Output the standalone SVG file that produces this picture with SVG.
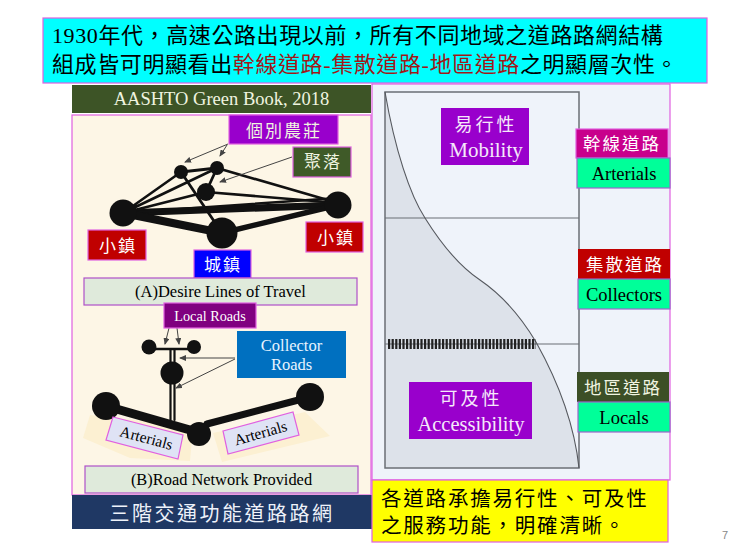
<svg xmlns="http://www.w3.org/2000/svg" width="740" height="555" viewBox="0 0 740 555">
<style>
text{font-family:"Liberation Serif","Noto Sans CJK TC",serif;text-anchor:middle}
.b{stroke:#e060e0;stroke-width:1.2}
.w{fill:#fff}
.g{fill:#f0f4e0}
.cjk{font-size:17px;letter-spacing:2px}
.lab{fill:#dfeadb;stroke:#b050c8;stroke-width:1.2}
.mint{fill:#00ff99;stroke:#9966cc;stroke-width:1.2}
.thin{stroke:#444;stroke-width:1;fill:none;marker-end:url(#a)}
.sand{fill:#fcf0d2}
</style>
<defs>
<marker id="a" markerWidth="7" markerHeight="6" refX="6" refY="3" orient="auto" markerUnits="userSpaceOnUse"><path d="M0 0L7 3L0 6z" fill="#444"/></marker>
</defs>
<rect width="740" height="555" fill="#fff"/>
<g id="title">
<rect x="43" y="18" width="664" height="65" fill="#00ffff" class="b"/>
<text x="52" y="43" font-size="22" letter-spacing=".6" style="text-anchor:start">1930年代&#xFF0C;高速公路出現以前&#xFF0C;所有不同地域之道路路網結構</text>
<text x="52" y="72" font-size="22" letter-spacing=".6" style="text-anchor:start">組成皆可明顯看出<tspan fill="#a01818">幹線道路-集散道路-地區道路</tspan>之明顯層次性。</text>
</g>
<g id="left-panel">
<rect x="72" y="85" width="299" height="28" fill="#3d5426"/>
<text x="221.500" y="105" font-size="18.500" fill="#f0f4e0">AASHTO Green Book, 2018</text>
<rect x="72" y="115" width="299" height="380" fill="#fdf6e6" class="b"/>
<path class="sand" d="M83 438L90 415L193 427L190 461L130 458Z"/>
<path class="sand" d="M213 433L305 412L330 436L222 462Z"/>
</g>
<g id="right-panel">
<rect x="372" y="84" width="298" height="396" fill="#eff3fa" class="b"/>
</g>
<g id="chart">
<path d="M385 92C395 150 410 195 425 218C445 250 462 268 480 280C505 297 524 322 536 342C560 385 575 430 579 468H385Z" fill="#dde2ea"/>
<rect x="385" y="92" width="194" height="376" fill="none" stroke="#6b6f75" stroke-width="1.5"/>
<path d="M385 218H579M385 344H579" stroke="#6b6f75" stroke-width="1.2"/>
<path d="M385 92C395 150 410 195 425 218C445 250 462 268 480 280C505 297 524 322 536 342C560 385 575 430 579 468" fill="none" stroke="#55585e" stroke-width="1.1"/>
<path d="M388 344H536" stroke="#222" stroke-width="10" stroke-dasharray="2.2 1.4"/>
</g>
<g id="connectors">
<g stroke="#111" fill="none" stroke-linecap="round">
<path d="M123 213L181 172M123 213L217 168M123 213L206 192" stroke-width="2.600"/>
<path d="M123 213L338 205" stroke-width="7"/>
<path d="M123 213L338 198" stroke-width="2.500"/>
<path d="M123 213L222 233" stroke-width="8"/>
<path d="M222 233L338 205" stroke-width="5.500"/>
<path d="M181 172L217 168" stroke-width="3"/>
<path d="M217 168L338 203M206 192L338 203" stroke-width="2.600"/>
<path d="M217 168L206 192M181 172L222 233" stroke-width="2.800"/>
<path d="M149 349H194" stroke-width="2.600"/>
<path d="M170.500 349V420M174.500 349V420" stroke-width="2.200"/>
<path d="M106 406L190 430" stroke-width="9"/>
<path d="M207 424L310 397" stroke-width="7"/>
</g>
<path class="thin" d="M228 144L185 162"/>
<path class="thin" d="M227 145L220 156"/>
<path class="thin" d="M292 157L220 182"/>
<path class="thin" d="M169 328L165 344"/>
<path class="thin" d="M177 328L179 344"/>
<path class="thin" d="M235 358L180 358"/>
<path class="thin" d="M235 359L176 388"/>
</g>
<g id="junctions" fill="#111">
<circle cx="123" cy="213" r="13.500"/><circle cx="338" cy="205" r="13.500"/><circle cx="222" cy="233" r="15.500"/>
<circle cx="181" cy="172" r="7"/><circle cx="217" cy="168" r="7"/><circle cx="206" cy="192" r="9"/>
<circle cx="149" cy="347" r="7.500"/><circle cx="194" cy="347" r="7"/><circle cx="172" cy="373" r="11.500"/>
<circle cx="106" cy="406" r="14"/><circle cx="310" cy="397" r="14"/><circle cx="199" cy="434" r="12"/>
</g>
<g id="farm"><rect x="229" y="115" width="109" height="29" fill="#9900cc" class="b"/><text class="cjk g" x="284" y="137" style="font-size:17px">個別農莊</text></g>
<g id="hamlet"><rect x="293" y="147" width="58" height="30" fill="#3f5a28" class="b"/><text class="cjk g" x="323" y="168">聚落</text></g>
<g id="town-left"><rect x="88" y="230" width="58" height="30" fill="#c00000" class="b"/><text class="cjk w" x="118" y="252">小鎮</text></g>
<g id="town-right"><rect x="306" y="222" width="57" height="30" fill="#c00000" class="b"/><text class="cjk w" x="336" y="244">小鎮</text></g>
<g id="city"><rect x="194" y="250" width="57" height="28" fill="#0000ff" class="b"/><text class="cjk w" x="223" y="271">城鎮</text></g>
<g id="label-a"><rect x="84" y="278" width="273" height="27" class="lab"/><text x="220.500" y="297" font-size="16.500">(A)Desire Lines of Travel</text></g>
<g id="local-roads"><rect x="164" y="303" width="92" height="25" fill="#800080" class="b"/><text class="w" x="210" y="321" font-size="14.200">Local Roads</text></g>
<g id="collector-roads"><rect x="237" y="331" width="109" height="47" fill="#0070c0"/><text fill="#e8f4ff" x="291.500" y="351" font-size="16.500">Collector</text><text fill="#e8f4ff" x="291.500" y="370" font-size="16.500">Roads</text></g>
<g id="arterial-left"><path d="M113 417L183 435L178 459L106 440Z" fill="#dfe3f5" class="b"/><text transform="translate(145 443) rotate(15)" font-size="15.500">Arterials</text></g>
<g id="arterial-right"><path d="M223 431L293 412L299 435L228 454Z" fill="#dfe3f5" class="b"/><text transform="translate(262 438) rotate(-16)" font-size="15.500">Arterials</text></g>
<g id="label-b"><rect x="85" y="466" width="273" height="27" class="lab"/><text x="221.500" y="485" font-size="16.400">(B)Road Network Provided</text></g>
<g id="footer"><rect x="72" y="495" width="300" height="34" fill="#1f3864"/><text x="222" y="521" font-size="20" letter-spacing="2.500" fill="#eef2fa">三階交通功能道路路網</text></g>
<g id="mobility"><rect x="441" y="108" width="88" height="57" fill="#9900cc"/><text class="cjk" fill="#f5e8fa" x="486" y="131" style="font-size:18px;letter-spacing:3px">易行性</text><text fill="#f5e8fa" x="486" y="157" font-size="21">Mobility</text></g>
<g id="arterial-zh"><rect x="576" y="129" width="92" height="29" fill="#c8008c" class="b"/><text class="w" x="622" y="150" style="font-size:17.500px;letter-spacing:2px">幹線道路</text></g>
<g id="arterial-en"><rect x="577" y="158" width="93" height="30" class="mint"/><text x="624" y="180" font-size="18.500">Arterials</text></g>
<g id="collector-zh"><rect x="578" y="249" width="92" height="30" fill="#c00000"/><text class="w" x="625" y="271" style="font-size:17.500px;letter-spacing:2px">集散道路</text></g>
<g id="collector-en"><rect x="578" y="279" width="92" height="30" class="mint"/><text x="624" y="301" font-size="18.500">Collectors</text></g>
<g id="local-zh"><rect x="577" y="372" width="92" height="30" fill="#3c4f26"/><text class="g" x="623" y="394" style="font-size:17.500px;letter-spacing:2px">地區道路</text></g>
<g id="local-en"><rect x="578" y="402" width="92" height="30" class="mint"/><text x="624" y="424" font-size="18.500">Locals</text></g>
<g id="accessibility"><rect x="409" y="382" width="123" height="57" fill="#9900cc"/><text fill="#f5e8fa" x="471" y="405" style="font-size:18px;letter-spacing:3px">可及性</text><text fill="#f5e8fa" x="471" y="431" font-size="20.500">Accessibility</text></g>
<g id="note"><rect x="372" y="480" width="296" height="62" fill="#ffff00" class="b"/>
<text x="381" y="506" font-size="20.500" letter-spacing="1.800" style="text-anchor:start">各道路承擔易行性、可及性</text>
<text x="381" y="533" font-size="20.500" letter-spacing="1.800" style="text-anchor:start">之服務功能&#xFF0C;明確清晰。</text></g>
<text x="725" y="539" font-size="11" fill="#888" style="font-family:'Liberation Sans',sans-serif">7</text>
</svg>
